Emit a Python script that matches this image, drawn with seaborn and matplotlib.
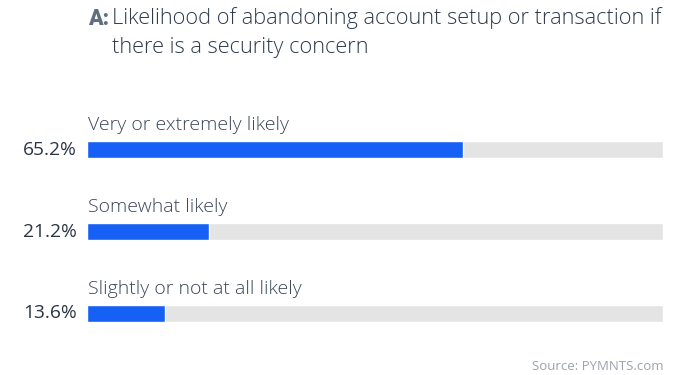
import matplotlib
matplotlib.use("Agg")
import matplotlib.pyplot as plt
import seaborn as sns
import pandas as pd

categories = ["Very or extremely likely", "Somewhat likely", "Slightly or not at all likely"]
shares = [65.2, 21.2, 13.6]
value_labels = ["65.2%", "21.2%", "13.6%"]
track_full = [100, 100, 100]

sns.set_theme(style="white")
plt.rcParams["font.family"] = ["Open Sans", "DejaVu Sans"]

BLUE = "#1660f6"
TRACK = "#e4e4e4"
TEXT = "#3b4658"

df = pd.DataFrame({"category": categories, "share": shares, "full": track_full})

fig = plt.figure(figsize=(6.84, 3.75), dpi=100)
ax = fig.add_axes([87 / 684, 1 - 354.5 / 375, 576 / 684, 246 / 375])

sns.barplot(data=df, x="full", y="category", orient="h", color=TRACK,
            width=0.207, saturation=1, ax=ax, zorder=1)
sns.barplot(data=df, x="share", y="category", orient="h", color=BLUE,
            width=0.207, saturation=1, ax=ax, zorder=2)

ax.set_xlim(0, 100)
ax.set_ylim(2.5, -0.5)
ax.set_axis_off()

for i, (cat, lab) in enumerate(zip(categories, value_labels)):
    ax.text(0.2, i - 0.30, cat, ha="left", va="center", fontsize=14,
            color=TEXT, fontweight="light")
    ax.text(-1.8, i, lab, ha="right", va="center", fontsize=13.8, color="#2b3445")

# Title block
fig.text(88 / 684, 1 - 19 / 375, "A:", ha="left", va="center", fontsize=15.5,
         fontweight="heavy", color="#5f6f80", family=["Roboto", "DejaVu Sans"])
fig.text(112 / 684, 1 - 18 / 375, "Likelihood of abandoning account setup or transaction if",
         ha="left", va="center", fontsize=15.7, color="#2f3b4d", fontweight="light")
fig.text(112 / 684, 1 - 47 / 375, "there is a security concern",
         ha="left", va="center", fontsize=15.7, color="#2f3b4d", fontweight="light")

fig.text(664 / 684, 1 - 366 / 375, "Source: PYMNTS.com", ha="right", va="center",
         fontsize=9.5, color="#9aa4b0")

fig.savefig("out.png", dpi=100)
